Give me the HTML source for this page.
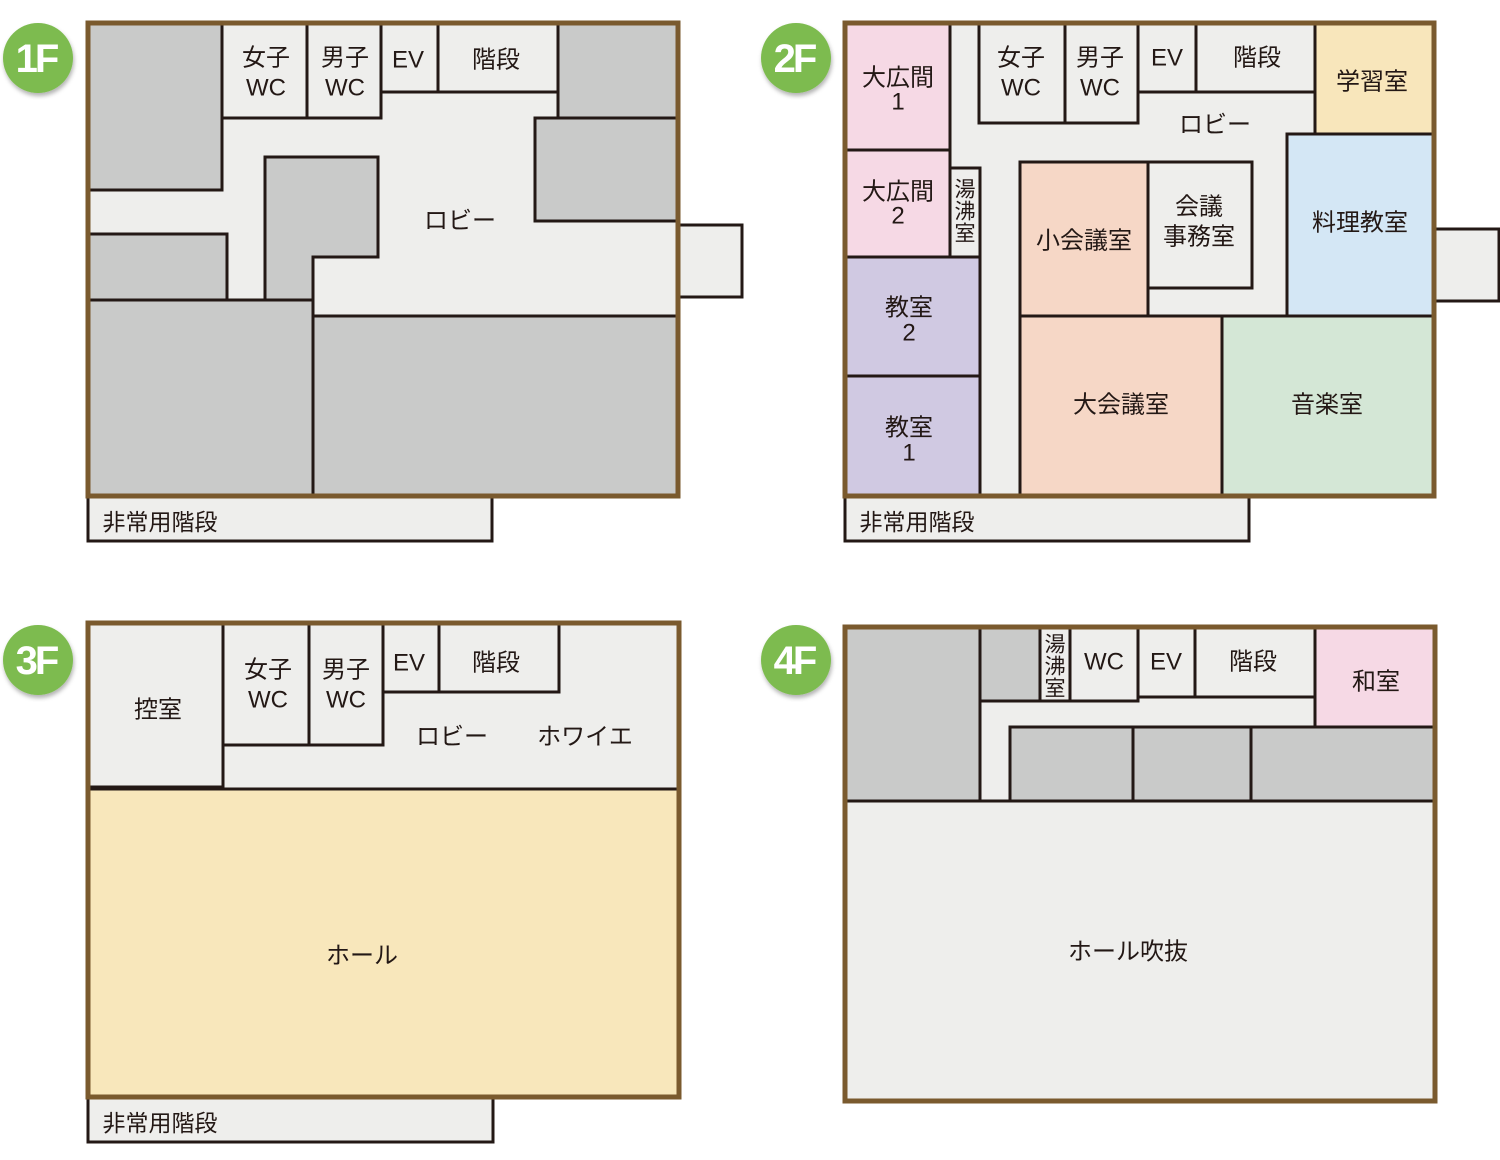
<!DOCTYPE html>
<html><head><meta charset="utf-8"><style>
html,body{margin:0;padding:0;background:#fff}
svg{display:block}
text{font-family:"Liberation Sans","Noto Sans CJK JP",sans-serif;font-size:24px;fill:#231815;text-anchor:middle;dominant-baseline:central}
.r{stroke:#231815;stroke-width:3}
.o{fill:none;stroke:#7a5a2e;stroke-width:5}
.g{fill:#c9cac9}.l{fill:#eeeeec}
.c{fill:#7dbb4f}
.ct{fill:#fff;font-size:40px;font-weight:bold;letter-spacing:-3px}
</style></head><body>
<svg width="1500" height="1160" viewBox="0 0 1500 1160">
<defs><filter id="sh"><feDropShadow dx="1" dy="3" stdDeviation="2" flood-opacity="0.3"/></filter></defs>
<!-- 1F -->
<rect class="r l" x="88" y="496" width="404" height="45"/>
<text x="160" y="522" style="font-size:23px">非常用階段</text>
<rect class="r l" x="678" y="225" width="64" height="72"/>
<rect class="l" x="88" y="23" width="590" height="473"/>
<rect class="r g" x="88" y="23" width="134" height="167"/>
<rect class="r l" x="222" y="23" width="85" height="95"/>
<rect class="r l" x="307" y="23" width="74" height="95"/>
<rect class="r l" x="381" y="23" width="57" height="69"/>
<rect class="r l" x="438" y="23" width="120" height="69"/>
<rect class="r g" x="558" y="23" width="120" height="95"/>
<rect class="r g" x="535" y="118" width="143" height="103"/>
<rect class="r g" x="88" y="234" width="139" height="66"/>
<polygon class="r g" points="265,157 378,157 378,257 313,257 313,300 265,300"/>
<rect class="r g" x="88" y="300" width="225" height="196"/>
<rect class="r g" x="313" y="316" width="365" height="180"/>
<rect class="o" x="88" y="23" width="590" height="473"/>
<text x="266" y="58">女子</text><text x="266" y="88">WC</text>
<text x="345" y="58">男子</text><text x="345" y="88">WC</text>
<text x="408" y="60">EV</text><text x="496" y="60">階段</text>
<text x="460" y="221">ロビー</text>
<circle class="c" cx="38" cy="58" r="35" filter="url(#sh)"/><text class="ct" x="36" y="59">1F</text>
<!-- 2F -->
<rect class="r l" x="845" y="496" width="404" height="45"/>
<text x="917" y="522" style="font-size:23px">非常用階段</text>
<rect class="r l" x="1434" y="229" width="65" height="72"/>
<rect class="l" x="845" y="23" width="589" height="473"/>
<rect class="r" fill="#f6d9e5" x="845" y="23" width="105" height="127"/>
<rect class="r" fill="#f6d9e5" x="845" y="150" width="105" height="107"/>
<rect class="r l" x="950" y="168" width="30" height="89"/>
<rect class="r" fill="#d0c9e2" x="845" y="257" width="135" height="119"/>
<rect class="r" fill="#d0c9e2" x="845" y="376" width="135" height="120"/>
<rect class="r l" x="979" y="23" width="86" height="100"/>
<rect class="r l" x="1065" y="23" width="73" height="100"/>
<rect class="r l" x="1138" y="23" width="58" height="69"/>
<rect class="r l" x="1196" y="23" width="119" height="69"/>
<rect class="r" fill="#f8e6bb" x="1315" y="23" width="119" height="111"/>
<rect class="r" fill="#d4e7f5" x="1287" y="134" width="147" height="182"/>
<rect class="r" fill="#f6d7c6" x="1020" y="162" width="128" height="154"/>
<rect class="r l" x="1148" y="162" width="104" height="126"/>
<rect class="r" fill="#f6d7c6" x="1020" y="316" width="202" height="180"/>
<rect class="r" fill="#d4e7d6" x="1222" y="316" width="212" height="180"/>
<rect class="o" x="845" y="23" width="589" height="473"/>
<text x="898" y="78">大広間</text><text x="898" y="102">1</text>
<text x="898" y="192">大広間</text><text x="898" y="216">2</text>
<text x="965" y="190" style="font-size:21px">湯</text><text x="965" y="212" style="font-size:21px">沸</text><text x="965" y="234" style="font-size:21px">室</text>
<text x="909" y="308">教室</text><text x="909" y="333">2</text>
<text x="909" y="428">教室</text><text x="909" y="453">1</text>
<text x="1021" y="58">女子</text><text x="1021" y="88">WC</text>
<text x="1100" y="58">男子</text><text x="1100" y="88">WC</text>
<text x="1167" y="58">EV</text><text x="1257" y="58">階段</text>
<text x="1372" y="82">学習室</text>
<text x="1215" y="125">ロビー</text>
<text x="1084" y="241">小会議室</text>
<text x="1199" y="207">会議</text><text x="1199" y="237">事務室</text>
<text x="1360" y="223">料理教室</text>
<text x="1121" y="405">大会議室</text><text x="1327" y="405">音楽室</text>
<circle class="c" cx="796" cy="58" r="35" filter="url(#sh)"/><text class="ct" x="794" y="59">2F</text>
<!-- 3F -->
<rect class="r l" x="88" y="1097" width="405" height="45"/>
<text x="160" y="1123" style="font-size:23px">非常用階段</text>
<rect class="l" x="88" y="623" width="591" height="474"/>
<rect class="r l" x="88" y="623" width="135" height="164"/>
<rect class="r l" x="223" y="623" width="86" height="122"/>
<rect class="r l" x="309" y="623" width="74" height="122"/>
<rect class="r l" x="383" y="623" width="56" height="69"/>
<rect class="r l" x="439" y="623" width="120" height="69"/>
<rect class="r" fill="#f8e7bb" x="88" y="789" width="591" height="308"/>
<rect class="o" x="88" y="623" width="591" height="474"/>
<text x="158" y="710">控室</text>
<text x="268" y="670">女子</text><text x="268" y="700">WC</text>
<text x="346" y="670">男子</text><text x="346" y="700">WC</text>
<text x="409" y="663">EV</text><text x="496" y="663">階段</text>
<text x="452" y="737">ロビー</text><text x="585" y="737">ホワイエ</text>
<text x="362" y="956">ホール</text>
<circle class="c" cx="38" cy="660" r="35" filter="url(#sh)"/><text class="ct" x="36" y="661">3F</text>
<!-- 4F -->
<rect class="l" x="845" y="627" width="590" height="474"/>
<rect class="r g" x="845" y="627" width="135" height="174"/>
<rect class="r g" x="980" y="627" width="60" height="74"/>
<rect class="r l" x="1040" y="627" width="30" height="74"/>
<rect class="r l" x="1070" y="627" width="68" height="74"/>
<rect class="r l" x="1138" y="627" width="57" height="70"/>
<rect class="r l" x="1195" y="627" width="120" height="70"/>
<rect class="r" fill="#f6d9e5" x="1315" y="627" width="120" height="100"/>
<rect class="r g" x="1010" y="727" width="123" height="74"/>
<rect class="r g" x="1133" y="727" width="118" height="74"/>
<rect class="r g" x="1251" y="727" width="184" height="74"/>
<rect class="r l" x="845" y="801" width="590" height="300"/>
<rect class="o" x="845" y="627" width="590" height="474"/>
<text x="1055" y="645" style="font-size:21px">湯</text><text x="1055" y="667" style="font-size:21px">沸</text><text x="1055" y="689" style="font-size:21px">室</text>
<text x="1104" y="662">WC</text><text x="1166" y="662">EV</text><text x="1253" y="662">階段</text>
<text x="1376" y="682">和室</text>
<text x="1128" y="952">ホール吹抜</text>
<circle class="c" cx="796" cy="660" r="35" filter="url(#sh)"/><text class="ct" x="794" y="661">4F</text>
</svg>
</body></html>
